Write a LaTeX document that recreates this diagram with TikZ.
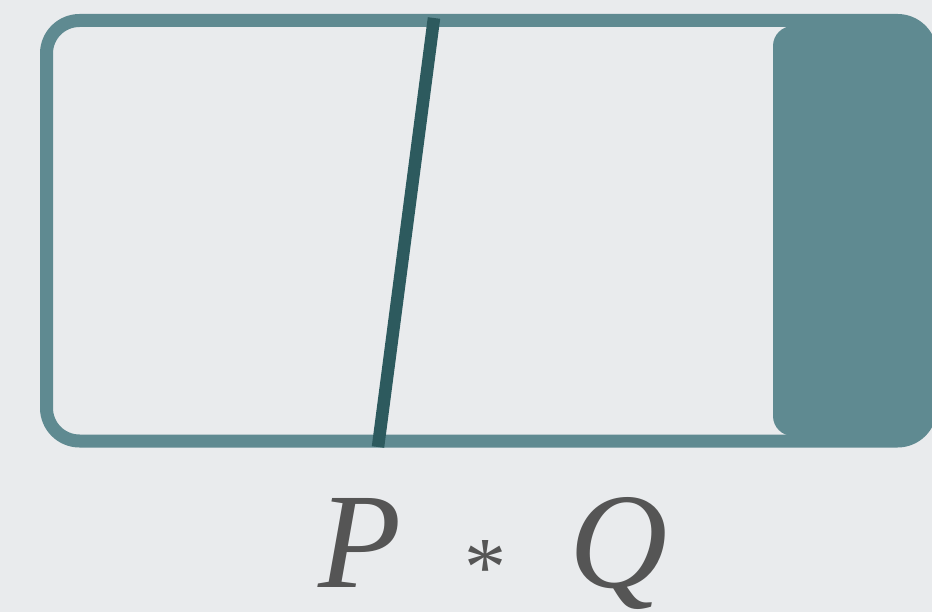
\documentclass[tikz,border=0pt]{standalone}
\usepackage{fontspec}
\setmainfont{Liberation Serif}
\usetikzlibrary{positioning,calc}
\definecolor{bgpaper}{HTML}{E9EBED}
\definecolor{tealframe}{HTML}{5F8A91}
\definecolor{tealcut}{HTML}{2D5A5E}
\definecolor{inkgray}{HTML}{555555}
\tikzset{frameline/.style={draw=tealframe, line width=13pt, rounded corners=33pt},
	cutline/.style={draw=tealcut, line width=12.5pt},
	opletter/.style={text=inkgray, inner sep=0pt, text depth=0pt, font=\fontsize{136}{136}\selectfont\itshape}}

\begin{document}
\begin{tikzpicture}[x=1pt, y=-1pt]
	\fill[bgpaper] (0,0) rectangle (932,612);
	\useasboundingbox (0,0) rectangle (932,612);
	\fill[tealframe] (924,26) [rounded corners=20pt] -- (773,26) -- (773,436) [sharp corners] -- (924,436) -- cycle;
	\draw[frameline] (46.5,20.5) rectangle (930.5,441);
	\coordinate (cuttop) at (434,18); \coordinate (cutbot) at (378,447);
	\draw[cutline] (cuttop) -- (cutbot);
	\node[opletter, anchor=base west] (pp) at (318,587) {P};
	\node[text=inkgray, inner sep=0pt, font=\fontsize{84}{84}\selectfont] (star) at (485,568) {*};
	\node[opletter, anchor=base west] (qq) at (569,587) {Q};
\end{tikzpicture}
\end{document}
